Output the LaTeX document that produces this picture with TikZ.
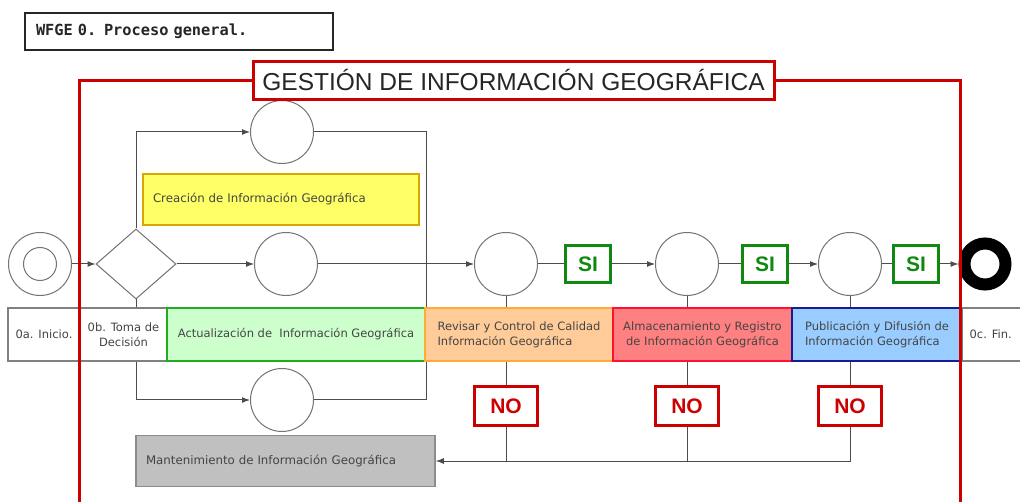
\documentclass[tikz,border=0pt]{standalone}
\usepackage{fontspec}
\setmainfont{DejaVu Sans}
\newfontfamily\arialf{Liberation Sans}
\newfontfamily\monof{DejaVu Sans Mono}
\usetikzlibrary{shapes.geometric,arrows.meta}
\definecolor{txt}{HTML}{444444}
\definecolor{frame}{HTML}{CC0000}
\definecolor{sig}{HTML}{118811}
\definecolor{yelf}{HTML}{FFFF66}
\definecolor{yelb}{HTML}{D9A800}
\definecolor{grnf}{HTML}{CCFFCC}
\definecolor{grnb}{HTML}{22AA22}
\definecolor{orgf}{HTML}{FFCC99}
\definecolor{orgb}{HTML}{FFAA33}
\definecolor{redf}{HTML}{FF8080}
\definecolor{redb}{HTML}{FF1133}
\definecolor{bluf}{HTML}{99CCFF}
\definecolor{blub}{HTML}{1A1A99}
\definecolor{gryf}{HTML}{C0C0C0}
\definecolor{gryb}{HTML}{8C8C8C}
\pgfdeclarelayer{paper}
\pgfdeclarelayer{bg}
\pgfsetlayers{paper,bg,main}
\begin{document}
\begin{tikzpicture}[x=1pt,y=-1pt,
  ln/.style={draw=black!70, line width=1pt},
  arr/.style={-{Latex[length=8pt,width=6pt]}},
  circ/.style={circle, draw=black!55, fill=white, line width=1pt, minimum size=63pt, inner sep=0pt},
  lane/.style={rectangle, minimum height=53pt, inner sep=0pt, line width=2pt, text=txt,
    font=\fontsize{11.5}{15}\selectfont},
  wlane/.style={lane, draw=black!50, line width=1.3pt, fill=white},
  sibox/.style={rectangle, draw=sig, line width=3pt, fill=white, text=sig, minimum width=45pt,
    minimum height=37pt, inner sep=0pt, font=\arialf\bfseries\fontsize{21}{24}\selectfont},
  nobox/.style={rectangle, draw=frame, line width=3pt, fill=white, text=frame, minimum width=63pt,
    minimum height=39pt, inner sep=0pt, font=\arialf\bfseries\fontsize{21}{24}\selectfont},
  actbox/.style={rectangle, line width=1.5pt, text=txt, minimum height=51pt, inner ysep=0pt,
    inner xsep=10pt, align=left, font=\fontsize{11.8}{14}\selectfont}
]
\useasboundingbox (0,0) rectangle (1020,502);
\begin{pgfonlayer}{paper}
\fill[white] (0,0) rectangle (1020,502);
\end{pgfonlayer}

% header
\node[draw=black!85, line width=2pt, fill=white, minimum height=37pt, inner xsep=11pt,
  text width=286pt, align=left, font=\monof\bfseries\fontsize{15.3}{17}\selectfont, text=black!85]
  (hdr) at (179,31.5) {WFGE 0. Proceso general.};

% lanes
\node[wlane, minimum width=72pt] (l0a) at (44,334.5) {0a. Inicio.};
\node[wlane, minimum width=87pt, align=center] (l0b) at (123.5,334.5) {0b. Toma de\\Decisión};
\node[lane, draw=grnb, fill=grnf, minimum width=258pt] (lgr) at (296,334.5) {Actualización de\ \ Información Geográfica};
\node[lane, draw=orgb, fill=orgf, minimum width=188pt, align=left] (lor) at (519,334.5) {Revisar y Control de Calidad\\Información Geográfica};
\node[lane, draw=redb, fill=redf, minimum width=179pt, align=center] (lrd) at (702.5,334.5) {Almacenamiento y Registro\\de Información Geográfica};
\node[lane, draw=blub, fill=bluf, minimum width=170pt, align=left] (lbl) at (877,334.5) {Publicación y Difusión de\\Información Geográfica};
\node[wlane, minimum width=70pt, anchor=west] (l0c) at (962,334.5) {\hspace*{-14pt}0c. Fin.};

% activity boxes
\node[actbox, draw=yelb, fill=yelf, text width=256pt] (crea) at (281,199.5) {Creación de Información Geográfica};
\node[actbox, draw=gryb, fill=gryf, text width=279pt] (mant) at (285.5,461) {Mantenimiento de Información Geográfica};

% start
\node[circ] (start) at (40,264) {};
\node[circle, draw=black!55, line width=1pt, minimum size=33pt, inner sep=0pt] (startin) at (40,264) {};
% decision
\node[diamond, draw=black!55, fill=white, line width=1pt, minimum width=80pt, minimum height=70pt,
  aspect=1.14, inner sep=0pt] (dia) at (136,264) {};
% branch circles
\node[circ] (ct) at (282,132) {};
\node[circ] (cm) at (286,264) {};
\node[circ] (cb) at (282,400) {};
% main circles
\node[circ] (c1) at (506,264) {};
\node[circ] (c2) at (687,264) {};
\node[circ] (c3) at (850,264) {};
\node[sibox] (si1) at (588,264) {SI};
\node[sibox] (si2) at (765,264) {SI};
\node[sibox] (si3) at (916,264) {SI};
\node[nobox] (no1) at (506,406) {NO};
\node[nobox] (no2) at (687,406) {NO};
\node[nobox] (no3) at (850,406) {NO};
% end
\node[circle, draw=black, line width=12pt, minimum size=41pt, inner sep=0pt, fill=white] (fin) at (985,264) {};

% connectors
\begin{pgfonlayer}{bg}
\draw[ln,arr] (start) -- (dia.west);
\draw[ln,arr] (dia.north) |- (ct.west);
\draw[ln,arr] (dia.east) -- (cm.west);
\draw[ln,arr] (dia.south) |- (cb.west);
\coordinate (mt) at (ct.east -| lgr.east);
\coordinate (mb) at (cb.east -| lgr.east);
\draw[ln] (ct.east) -- (mt) -- (mb) -- (cb.east);
\draw[ln,arr] (cm.east) -- (c1.west);
\draw[ln] (c1) -- (si1);
\draw[ln,arr] (si1) -- (c2.west);
\draw[ln] (c2) -- (si2);
\draw[ln,arr] (si2) -- (c3.west);
\draw[ln] (c3) -- (si3);
\draw[ln,arr] (si3) -- (fin.west);
\draw[ln] (c1) -- (no1);
\draw[ln] (c2) -- (no2);
\draw[ln] (c3) -- (no3);
\coordinate (j1) at (no1 |- mant.east);
\coordinate (j2) at (no2 |- mant.east);
\draw[ln] (no1) -- (j1);
\draw[ln] (no2) -- (j2);
\draw[ln,arr] (no3.south) |- (mant.east);
\end{pgfonlayer}

% frame
\coordinate (fl) at (79,506);
\coordinate (fr) at (960,506);
\node[draw=frame, line width=3pt, fill=white, minimum width=521pt, minimum height=38pt, inner sep=0pt,
  font=\arialf\fontsize{24.5}{28}\selectfont, text=black!85] (title) at (513.5,80.5) {GESTIÓN DE INFORMACIÓN GEOGRÁFICA};
\draw[draw=frame, line width=3pt] (title.west) -| (fl);
\draw[draw=frame, line width=3pt] (title.east) -| (fr);
\end{tikzpicture}
\end{document}
